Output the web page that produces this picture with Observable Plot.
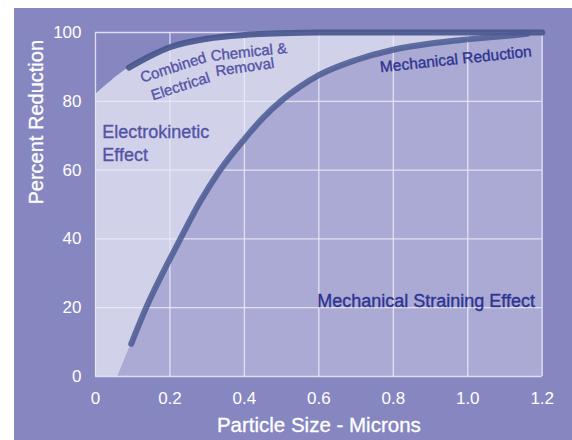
<!DOCTYPE html>
<html>
<head>
<meta charset="utf-8">
<script src="https://cdn.jsdelivr.net/npm/d3@7"></script>
<script src="https://cdn.jsdelivr.net/npm/@observablehq/plot@0.6"></script>
<style>
  html, body { margin: 0; padding: 0; background: #ffffff; }
  #wrap { position: relative; width: 572px; height: 440px; overflow: hidden; background: #ffffff; }
  #panel { position: absolute; left: 14px; top: 8px; right: 0; bottom: 0; background: #8686c1; }
  #chart { position: absolute; left: 0; top: 0; }
</style>
</head>
<body>
<div id="wrap"><div id="panel"></div><div id="chart"></div></div>
<script>
// ---- data ----
const xTicks = [0, 0.2, 0.4, 0.6, 0.8, 1.0, 1.2];
const yTicks = [0, 20, 40, 60, 80, 100];

// upper boundary of the electrokinetic region / combined chemical & electrical removal curve
const combinedX = [0, 0.04, 0.09, 0.15, 0.2, 0.3, 0.4, 0.5, 0.6, 0.8, 1.0, 1.2];
const combinedY = [82, 85.7, 89.8, 93.3, 95.7, 98.2, 99.3, 99.8, 100, 100, 100, 100];

// mechanical reduction curve (first point = where its shaded area meets the axis)
const mechX = [0.06, 0.096, 0.134, 0.2, 0.225, 0.282, 0.332, 0.4, 0.452, 0.502, 0.55, 0.6, 0.7, 0.8, 0.9, 1.0, 1.1, 1.16, 1.2];
const mechY = [0, 9.5, 19.5, 34.2, 39.4, 51, 59.6, 69, 75.4, 80.4, 84.3, 87.6, 92, 95, 96.8, 98, 99, 99.6, 100];

// curved label, word by word
const curvedWords = ["Combined", "Chemical &", "Electrical", "Removal"];
const curvedX = [0.209, 0.412, 0.228, 0.401];
const curvedY = [89.8, 94.3, 84.3, 89.9];
const curvedAngle = [-18, -6, -18, -8];

const annotLabels = ["Electrokinetic\nEffect", "Mechanical Reduction", "Mechanical Straining Effect"];
const annotX = [0.018, 0.968, 0.888];
const annotY = [68.2, 92.2, 21.9];

const xTitle = "Particle Size - Microns";
const yTitle = "Percent Reduction";

// ---- tables ----
const combined = combinedX.map((x, i) => ({x, y: combinedY[i]}));
const mech = mechX.map((x, i) => ({x, y: mechY[i]}));
const combinedLine = combined.filter(d => d.x >= 0.09);
const mechLine = mech.filter(d => d.x >= 0.094 && d.x <= 1.16);
const curved = curvedWords.map((t, i) => ({t, x: curvedX[i], y: curvedY[i], r: curvedAngle[i]}));
const annots = annotLabels.map((t, i) => ({t, x: annotX[i], y: annotY[i]}));

const font = "'Liberation Sans', Arial, Helvetica, sans-serif";

const chart = Plot.plot({
  width: 572,
  height: 440,
  marginLeft: 95,
  marginRight: 30.3,
  marginTop: 32,
  marginBottom: 64,
  x: {domain: [0, 1.2]},
  y: {domain: [0, 100]},
  style: {background: "transparent", fontFamily: font, overflow: "visible"},
  marks: [
    Plot.areaY(combined, {x: "x", y: "y", fill: "#d1d1e9", curve: "monotone-x"}),
    Plot.areaY(mech, {x: "x", y: "y", fill: "#aaaad4", curve: "monotone-x"}),
    Plot.gridX(xTicks, {stroke: "#e8e8f6", strokeOpacity: 0.9, strokeWidth: 1.3}),
    Plot.gridY(yTicks, {stroke: "#e8e8f6", strokeOpacity: 0.9, strokeWidth: 1.3}),
    Plot.line(combinedLine, {x: "x", y: "y", stroke: "#45538d", strokeOpacity: 0.9, strokeWidth: 6, strokeLinecap: "round", curve: "monotone-x"}),
    Plot.line(mechLine, {x: "x", y: "y", stroke: "#4b5a92", strokeOpacity: 0.85, strokeWidth: 6, strokeLinecap: "round", curve: "monotone-x"}),
    ...curved.map(d => Plot.text([d], {x: "x", y: "y", text: "t", rotate: d.r, fontSize: 15, fill: "#5353a6", stroke: "#5353a6", strokeWidth: 0.35, textAnchor: "middle"})),
    Plot.text(annots.slice(0, 1), {x: "x", y: "y", text: "t", fontSize: 18, lineHeight: 1.28, fill: "#5454a6", stroke: "#5454a6", strokeWidth: 0.35, textAnchor: "start"}),
    Plot.text(annots.slice(1, 2), {x: "x", y: "y", text: "t", rotate: -6, fontSize: 15.5, fill: "#2e3391", stroke: "#2e3391", strokeWidth: 0.35, textAnchor: "middle"}),
    Plot.text(annots.slice(2, 3), {x: "x", y: "y", text: "t", fontSize: 18, fill: "#2e3392", stroke: "#2e3392", strokeWidth: 0.35, textAnchor: "middle"}),
    Plot.axisX(xTicks, {tickSize: 0, tickPadding: 15, fontSize: 17, fill: "#ffffff", label: null,
      tickFormat: d => d === 0 ? "0" : d.toFixed(1)}),
    Plot.axisY(yTicks, {tickSize: 0, tickPadding: 14, fontSize: 17, fill: "#ffffff", label: null}),
    Plot.text([xTitle], {frameAnchor: "bottom", dy: 49, fontSize: 20.5, fill: "#ffffff", stroke: "#ffffff", strokeWidth: 0.3, lineAnchor: "middle"}),
    Plot.text([yTitle], {frameAnchor: "left", dx: -58.5, rotate: -90, fontSize: 20, fill: "#ffffff", stroke: "#ffffff", strokeWidth: 0.3, lineAnchor: "middle"})
  ]
});
document.getElementById("chart").appendChild(chart);
</script>
</body>
</html>
